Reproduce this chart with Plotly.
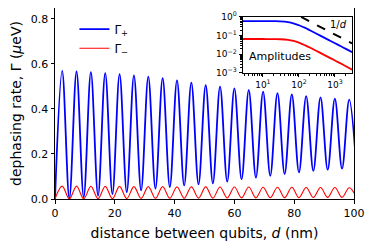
import plotly.graph_objects as go

# ---- main panel data (extrema), d in nm ----
d_ext = [0.0, 2.4, 4.8, 7.2, 9.6, 12.0, 14.4, 16.8, 19.2, 21.6, 24.0, 26.4, 28.8, 31.2,
         33.6, 36.0, 38.4, 40.8, 43.2, 45.6, 48.0, 50.4, 52.8, 55.2, 57.6, 60.0, 62.4,
         64.8, 67.2, 69.6, 72.0, 74.4, 76.8, 79.2, 81.6, 84.0, 86.4, 88.8, 91.2, 93.6,
         96.0, 98.4, 100.8]
gamma_plus = [0.000, 0.569, 0.003, 0.566, 0.008, 0.563, 0.015, 0.559, 0.022, 0.554,
              0.030, 0.549, 0.038, 0.543, 0.046, 0.536, 0.053, 0.527, 0.060, 0.517,
              0.065, 0.505, 0.070, 0.499, 0.077, 0.491, 0.087, 0.484, 0.095, 0.477,
              0.103, 0.470, 0.111, 0.464, 0.118, 0.457, 0.125, 0.451, 0.130, 0.446,
              0.135, 0.441, 0.138]
gamma_minus = [0.000, 0.057, 0.0005, 0.057, 0.001, 0.056, 0.0015, 0.056, 0.002, 0.056,
               0.002, 0.055, 0.0025, 0.055, 0.003, 0.055, 0.003, 0.054, 0.0035, 0.054,
               0.004, 0.054, 0.004, 0.053, 0.0045, 0.053, 0.005, 0.053, 0.005, 0.052,
               0.0055, 0.052, 0.006, 0.052, 0.006, 0.051, 0.0065, 0.051, 0.007, 0.051,
               0.007, 0.050, 0.0075]

# ---- inset data (amplitudes, log-log) ----
d_amp = [2.8, 5, 10, 20, 30, 50, 70, 100, 150, 200, 300, 500, 700, 1000, 1500, 2000, 3000]
amp_plus = [0.60, 0.60, 0.60, 0.595, 0.58, 0.53, 0.46, 0.36, 0.26, 0.195, 0.13, 0.078,
            0.056, 0.039, 0.026, 0.0195, 0.013]
amp_minus = [0.066, 0.066, 0.066, 0.065, 0.064, 0.059, 0.052, 0.042, 0.030, 0.023,
             0.0155, 0.0093, 0.0066, 0.0046, 0.0031, 0.0023, 0.0015]
ref_d = [115, 3000]
ref_val = [1.0, 0.038]

x_ticks = [0, 20, 40, 60, 80, 100]
y_ticks = [0.0, 0.2, 0.4, 0.6, 0.8]
y_tick_text = ["0.0", "0.2", "0.4", "0.6", "0.8"]
inset_x_ticks = [10, 100, 1000]
inset_x_text = ["10<sup>1</sup>", "10<sup>2</sup>", "10<sup>3</sup>"]
inset_y_ticks = [0.001, 0.01, 0.1, 1]
inset_y_text = ["10<sup>−3</sup>", "10<sup>−2</sup>", "10<sup>−1</sup>", "10<sup>0</sup>"]

FONT = "DejaVu Sans"

# minor tick positions for the log axes (2..9 within each decade)
minor_x = [m * 10 ** e for e in range(0, 4) for m in range(2, 10)]
minor_y = [m * 10.0 ** e for e in range(-3, 0) for m in range(2, 10)]

fig = go.Figure()
fig.add_trace(go.Scatter(x=d_ext, y=gamma_plus, mode="lines", name="Γ<sub>+</sub>",
                         line=dict(color="#0000ff", width=1.8, shape="spline", smoothing=1.0),
                         xaxis="x", yaxis="y"))
fig.add_trace(go.Scatter(x=d_ext, y=gamma_minus, mode="lines", name="Γ<sub>−</sub>",
                         line=dict(color="#ff0000", width=1.1, shape="spline", smoothing=1.0),
                         xaxis="x", yaxis="y"))
fig.add_trace(go.Scatter(x=d_amp, y=amp_plus, mode="lines", showlegend=False,
                         line=dict(color="#0000ff", width=1.8, shape="spline"),
                         xaxis="x2", yaxis="y2"))
fig.add_trace(go.Scatter(x=d_amp, y=amp_minus, mode="lines", showlegend=False,
                         line=dict(color="#ff0000", width=1.8, shape="spline"),
                         xaxis="x2", yaxis="y2"))
fig.add_trace(go.Scatter(x=ref_d, y=ref_val, mode="lines", showlegend=False,
                         line=dict(color="black", width=2, dash="dash"),
                         xaxis="x2", yaxis="y2"))

axis_common = dict(showline=True, linecolor="black", linewidth=1, mirror=True,
                   showgrid=False, zeroline=False, ticks="outside",
                   tickwidth=1, tickcolor="black")

# page body has an 8px default margin: compensate in the figure margins
fig.update_layout(
    width=374, height=247,
    margin=dict(l=47, r=28, t=0, b=56, autoexpand=False),
    paper_bgcolor="white", plot_bgcolor="white",
    font=dict(family=FONT, size=11, color="black"),
    showlegend=True,
    legend=dict(x=0.065, y=0.965, xanchor="left", yanchor="top",
                bgcolor="rgba(0,0,0,0)", font=dict(size=12, family=FONT),
                tracegroupgap=0),
    xaxis=dict(**axis_common, range=[0, 100], tickvals=x_ticks, ticklen=3.5,
               domain=[0, 1], anchor="y",
               title=dict(text="distance between qubits, <i>d</i> (nm)",
                          font=dict(size=14, family=FONT), standoff=9),
               tickfont=dict(size=11)),
    yaxis=dict(**axis_common, range=[0, 0.848], tickvals=y_ticks, ticktext=y_tick_text,
               ticklen=3.5, domain=[0, 1], anchor="x",
               title=dict(text="dephasing rate, Γ (<i>μ</i>eV)",
                          font=dict(size=14, family=FONT), standoff=6),
               tickfont=dict(size=11)),
    xaxis2=dict(**axis_common, type="log", range=[0.45, 3.47],
                tickvals=inset_x_ticks, ticktext=inset_x_text,
                domain=[0.629, 0.993], anchor="y2",
                tickfont=dict(size=9), ticklen=3.5,
                minor=dict(ticks="outside", ticklen=2, tickcolor="black", tickwidth=0.8,
                           tickvals=minor_x, showgrid=False)),
    yaxis2=dict(**axis_common, type="log", range=[-3, 0],
                tickvals=inset_y_ticks, ticktext=inset_y_text,
                domain=[0.660, 0.953], anchor="x2",
                tickfont=dict(size=9), ticklen=3.5,
                minor=dict(ticks="outside", ticklen=2, tickcolor="black", tickwidth=0.8,
                           tickvals=minor_y, showgrid=False)),
    annotations=[
        dict(text="Amplitudes", x=0.641, y=0.745, xref="paper", yref="paper",
             xanchor="left", yanchor="middle", showarrow=False,
             font=dict(size=11, family=FONT)),
        dict(text="1/<i>d</i>", x=0.948, y=0.915, xref="paper", yref="paper",
             xanchor="center", yanchor="middle", showarrow=False,
             font=dict(size=10, family=FONT)),
    ],
)

fig.write_html("out.html")
